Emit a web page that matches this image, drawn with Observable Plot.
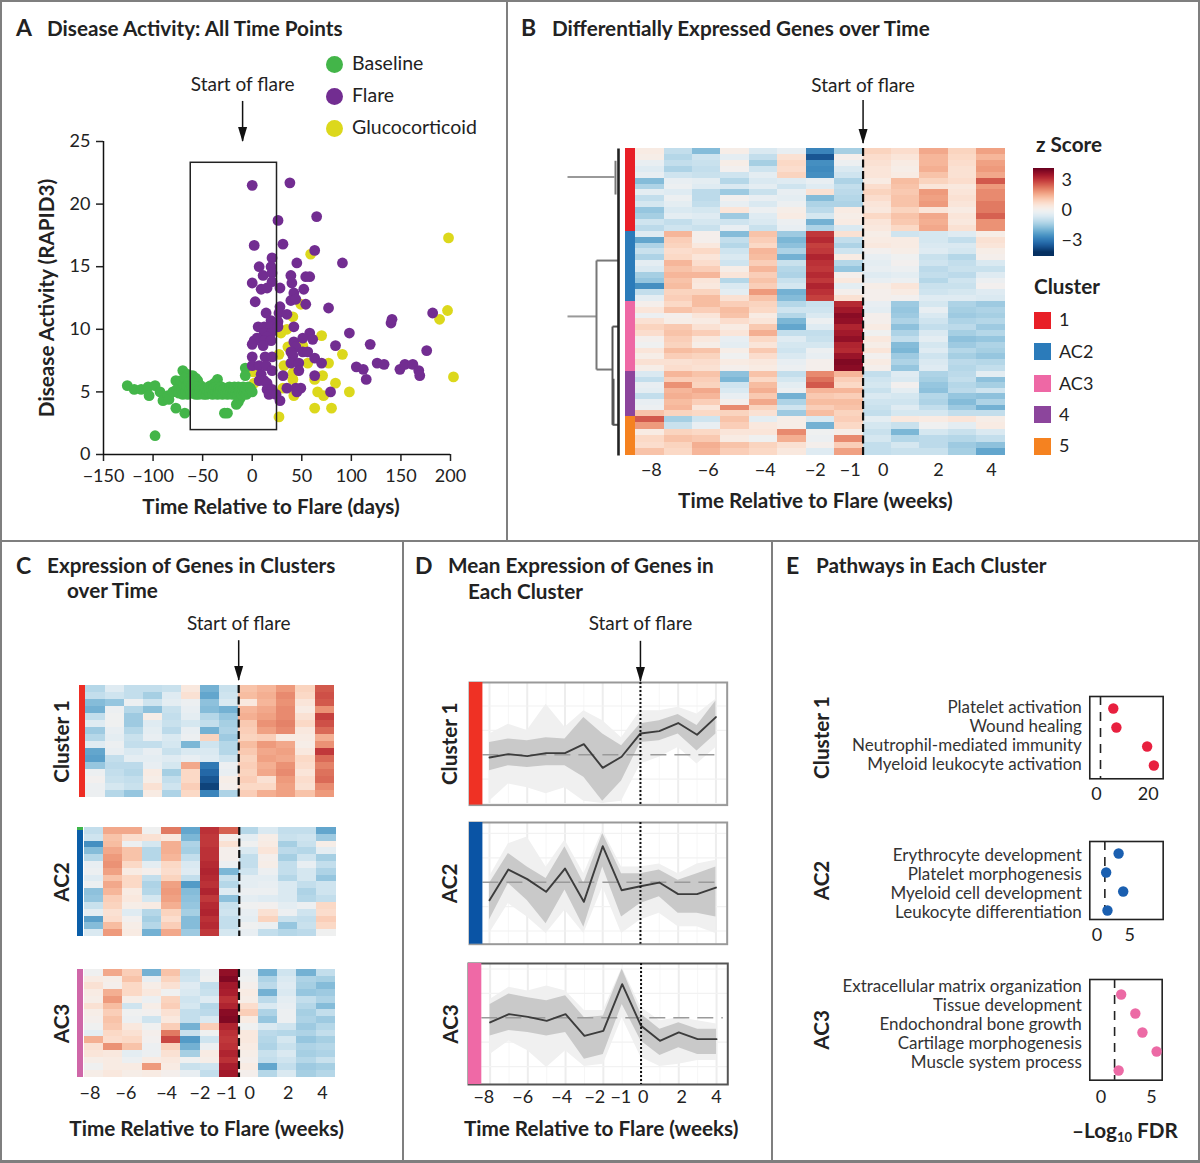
<!DOCTYPE html>
<html><head><meta charset="utf-8">
<script src="https://cdn.jsdelivr.net/npm/d3@7"></script>
<script src="https://cdn.jsdelivr.net/npm/@observablehq/plot@0.6"></script>
<style>
html,body{margin:0;padding:0;background:#fff}
#page{position:relative;width:1200px;height:1163px;overflow:hidden;font-family:Lato,"Open Sans",sans-serif;color:#222}
.abs{position:absolute}
.t{position:absolute;white-space:pre;transform:translateY(-50%);line-height:1}
</style></head><body><div id="page"></div>
<script>
// ---------- Panel A values: [days, RAPID3]
const baseline=[[-126,5.5],[-119,5.2],[-112,5.2],[-105,5.4],[-98,5.5],[-104,4.7],[-93,5],[-90,4.3],[-85,4.7],[-84,4.4],[-80,5],[-77,3.7],[-68,3.3],[-98,1.5],[-77,5.9],[-73,5.5],[-70,6.7],[-66,6.3],[-62,6],[-57,6.1],[-55,5.9],[-52,5.5],[-35,6],[-42,5.5],[-38,5.7],[-28,3.3],[-25,3.3],[-16,4],[-14,4.2],[-12,4.5],[-7,6.9],[-7,6.3],[-68,5.9],[-65,6.4],[-60,6.3],[-58,5.9],
[-76,5.2],[-74,4.9],[-72,5.9],[-71,5.2],[-70,4.8],[-69,5.6],[-68,6.1],[-67,5],[-66,5.5],[-65,4.8],[-64,5.8],[-63,5.2],[-62,4.9],[-61,5.5],[-60,5],[-59,5.7],[-58,5.2],[-57,4.8],[-56,5.4],[-55,5],[-54,4.8],[-53,5.2],[-51,4.9],[-50,5.2],[-49,4.8],[-48,5],[-47,5.3],[-46,4.8],[-45,5.1],[-44,5.4],[-43,4.9],[-41,5.2],[-40,4.8],[-39,5.3],[-37,5],[-36,5.4],[-35,4.8],[-34,5.2],[-33,4.9],[-32,5.1],[-31,5.4],[-30,4.8],[-29,5.2],[-27,4.9],[-26,5.3],[-25,4.8],[-24,5.1],[-23,5.4],[-22,4.9],[-21,5.3],[-20,4.8],[-19,5.1],[-18,5.4],[-17,4.9],[-16,5.2],[-15,4.7],[-14,5.4],[-13,5],[-12,5.3],[-11,4.8],[-10,5.2],[-9,5.4],[-8,4.9],[-7,5.2],[-6,4.8],[-5,5.1],[-4,5.4],[-3,5],[-2,5.3],[-1,5.1],[0,5]];
const flarePts=[[0,21.5],[38,21.7],[26,18.7],[65,19],[2,16.7],[31,16.8],[63,16.3],[20,15.7],[45,15.3],[91,15.3],[7,15],[19,15],[11,14.3],[20,14.5],[39,14.3],[54,14.2],[58,14.2],[0,13.7],[20,13.8],[40,13.7],[9,13.2],[15,13.3],[28,13.3],[52,13.2],[42,12.9],[3,12.2],[39,12.3],[44,12.4],[54,12],[28,11.8],[77,11.7],[14,11.3],[27,11.3],[35,11.2],[19,10.7],[26,10.6],[6,10.2],[12,10.2],[19,10.2],[26,10.2],[42,10.2],[12,9.7],[19,9.7],[15,9.4],[98,9.7],[58,9.7],[5,9.3],[2,9.1],[12,9.1],[19,9.1],[0,8.8],[11,8.7],[42,9],[51,9.3],[61,9.2],[84,8.7],[119,8.8],[176,8.3],[44,8.6],[39,8.2],[51,8.2],[56,8.2],[63,7.7],[0,7.8],[13,7.8],[20,7.8],[41,7.9],[39,7.3],[47,7.3],[70,7.3],[0,7.1],[7,7.1],[14,7.1],[105,7],[112,6.8],[115,6],[126,7.3],[133,7.2],[149,6.8],[154,7.2],[162,7.2],[168,6.7],[169,6.3],[63,6.3],[31,6.3],[47,6.7],[20,6.7],[9,6.4],[12,5.9],[7,5.9],[15,5.7],[15,5.2],[20,5.2],[17,4.8],[24,4.8],[35,5.3],[44,5.3],[49,5.3],[45,5],[79,5],[28,4.3],[140,10.5],[141,10.8],[182,11.3]];
const gluco=[[198,17.3],[197,11.5],[189,10.8],[203,6.2],[59,16],[49,12],[41,11],[35,10],[29,9.7],[70,9.5],[51,8.7],[36,8.6],[27,8],[91,8],[56,7.3],[77,7.3],[32,7.1],[41,6.5],[71,6.3],[63,6],[41,6],[84,5.7],[2,5.7],[31,5.3],[66,5],[98,5],[72,4.7],[42,4.7],[63,3.7],[80,3.7],[27,3],[1,6.6]];
const flareBox=[-62,25,1.95,23.3];
// ---------- Heatmap axes
const weeks=[-8,-7,-6,-5,-4,-3,-2,-1,0,1,2,3,4];
const weekLabels=["\u22128","\u22126","\u22124","\u22122","\u22121","0","2","4"];
// ---------- Panel B z scores, one inner list per week column, rows top to bottom
const heatB1=[[.3,.2,-.3,-.5,-.3,-1.8,-1.3,-.4,-1,-.7,-1.6,-1.4,-.8,-1.1],[-1,-1.2,-1,-1.3,-.8,-.3,-.2,-.5,-.2,-.4,-.6,-.4,-1,-.8],[-1.8,-.8,-.9,-1,-.9,-.4,-.5,-1.1,-1.1,-1,-.7,-.5,-.7,-.9],[.2,-.4,.2,0,-.8,-1.2,-.6,-1.5,0,-.3,.5,-1.5,-.8,-.3],[-.6,-1,-1.4,-.8,-.4,-.6,-.4,-.9,-.3,-.6,-.2,-.5,-.6,-.9],[-.3,.6,.8,.7,.9,-.5,-.8,-.3,-.4,-.2,.2,.3,-.2,-.3],[-2.8,-3.6,-2.6,-2.7,-2.6,-.3,-.5,.6,-1.8,-1.3,-1.1,-.7,-2,-1.3],[-1.4,.1,-.2,-.6,-.8,-1.3,-1,-1.1,-1.2,-1.3,.3,.2,.3,-.6],[.9,.7,.6,.5,.5,.3,.7,.9,.7,.5,.4,.8,.5,.4],[.7,.5,.3,.2,.3,1.3,1.2,1.1,1.2,1.2,.9,1.2,1.1,.8],[1.6,1.4,1.4,1.5,1.2,.9,.5,1.8,1.7,1.8,.5,1.6,1.5,1.6],[.9,.8,.7,.6,.6,.7,.4,.5,.6,.5,.3,.5,.4,.6],[1.7,1.4,1.7,1.8,1.6,2.6,1.8,2,2,2.2,2.2,2.5,1.9,1.9]];
const heatB2=[[-.5,-2.2,-1.3,-.9,-1.3,-.4,-.6,-1.4,-1.6,-2.6,-1,-.4],[1.4,1,.9,.7,.8,1.4,1.2,1.4,1.2,1.3,.9,1],[.1,.1,.4,.8,.5,.7,1,1.4,.5,.4,.9,1.3],[-1.8,-1,-1.2,-.8,-.6,-.8,.2,.5,-1.2,-.6,-.4,.6],[1.2,1,.8,1.4,1.3,1,1.4,1,1.2,1,1.8,1.2],[-1.5,-1.9,-1.7,-1.3,-2,-.9,-1.2,-1.3,-.9,-.7,-2,-1.8],[3,3.2,2.9,3,3.3,3.1,3,3.2,3,3.3,3.1,2.9],[.6,-1,-1.3,-.8,.3,-1.2,-1.6,.1,.4,-.4,.1,.6],[.2,.3,.4,0,-.3,-.4,-.3,-.5,-.3,.2,.1,.1],[-.8,.3,.3,.2,-.1,0,-.2,-.4,-.2,.5,.3,0],[-.7,-.7,-.6,-.5,-.9,-.8,-1.1,-1,-1.2,-.9,-.8,-.5],[-.5,-1,-.6,-.7,-1.2,-1,-.9,-1.1,-.8,-.9,-.7,-.5],[.2,.6,.5,.2,.1,-.6,-.9,-.5,-.2,0,-.5,-.6]];
const heatB3=[[.1,.5,-.2,.6,.9,.7,.1,-.1,.5,.2,.6,.2],[.8,1.2,.1,.2,1.1,1.2,1,.9,1.3,1,.6,.7],[1.3,1,.5,.3,.6,1,.4,.2,1.2,.9,.7,.6],[1,1.3,1.2,.7,.3,.5,-.3,-.4,.2,-.1,.3,.1],[.9,.8,.3,.5,1.1,1.5,.8,.5,1.1,.7,.4,.3],[-1.2,-.8,-1.2,-1.9,-2.2,-1,-.5,-.7,-.8,-.6,-.3,-.2],[-.9,-.8,-.6,-.2,-.5,-1,-.9,-.7,-.2,-.3,.1,.1],[3.2,3.5,3.8,3.7,3.3,3.5,3.7,3.3,3.2,3.6,3.9,3.8],[-.3,-.4,.1,.1,.3,-.1,.4,.2,.5,0,.3,.1],[-1.5,-1.6,-1.5,-1.3,-1.7,-1.3,-1,-1.8,-1.9,-1.5,-1.3,-1.6],[-.7,-.3,-.6,-.8,-1,-.6,-.4,-.7,-.5,-.8,-.6,-.5],[-1.3,-1.4,-1.5,-1.3,-1.1,-1.4,-1.7,-1.5,-1.2,-1.4,-1.1,-1.2],[-1.5,-1.3,-1.4,-1.2,-1.5,-1.2,-1.6,-1.3,-1.4,-1.6,-1.2,-1]];
const heatB4=[[-.6,-1,-.3,-.4,-1,-.3,-.2,1.2],[1.4,1,1.9,1.4,1.5,1.3,1.4,.9],[1.2,1,.9,1.6,1.4,1,.5,.8],[-1.7,-1.9,-.8,-.6,-.3,.1,2,.9],[1.2,.8,1.3,1.5,1.1,1.6,.9,.6],[-1,-.7,-.4,-.2,-2,-1.3,-.8,-1.5],[2,2.3,2.6,1.4,1.1,1.3,1,1.3],[1.4,1,.8,1.4,1,1.3,1.2,.9],[-1,-.8,-.7,-.9,-.6,-.8,-.9,-1],[-.5,-.6,0,-.4,-.7,-.8,-.5,-.7],[-1.3,-1.4,-1.6,-1.7,-1.2,-1.3,-1,-.7],[-1.1,-1,-1.2,-1.1,-1.6,-1.8,-1.5,-1],[-.4,-1.7,-1.4,-.8,-1.7,-1.3,-2,-1]];
const heatB5=[[2.6,1.8,.3,.8,.7,1.2],[-1.4,-.9,.9,1.2,.9,.8],[-.8,-.3,.8,1.1,1.5,1.4],[1.2,1,.5,.3,1.2,1],[-.4,.4,.5,-.1,.9,.8],[.2,.2,2,1.5,.6,.4],[-.6,-2,-.1,-.2,.1,-.5],[1,.8,.2,2,1,1.7],[-.4,-.7,-.9,-.7,-1,-1],[.4,-.9,-1.9,-1.2,-.7,-.9],[.3,-.1,-.7,-1.1,-1.1,-.9],[.5,-.4,-.9,-1.2,-1.5,-1.4],[.2,.3,-.6,-1,-1.7,-2.2]];
const clusterShare=[27,22.8,22.8,14.7,12.7];
const clusterNames=["1","AC2","AC3","4","5"];
const clusterColors=["#e81f27","#2b7bba","#ee68a5","#8c459c","#f58220"];
// ---------- Panel C z scores
const heatC1=[[-1.2,-1,-1.8,-2,-1,-.5,-1.5,-1.2,-.5,-2.2,-2.3,-1.6,-.2,0,-.2,-.2],[-.5,-.8,-1.6,-.2,-.1,-.1,-.3,-.4,-.2,-.3,-1,-1.1,-1,-.9,-.7,-1.2],[-1,-1,-.2,-1.2,-1.5,-1.5,-1.2,-.9,-1,-.6,-.4,-1.1,-1.2,-1,-.9,-1.6],[-1,-1.4,-.8,-1.7,.2,-.5,-.4,-.3,-1,-.3,-.4,-.3,.3,.2,.6,.3],[-.9,-.5,-.4,-.9,-1,-.9,-1.1,-.6,-.7,-.9,-.5,-.7,-1.4,-1,-.8,-1.3],[.4,.6,-.2,-.3,-.4,-.7,-.3,-.2,-1.9,-.6,-.3,1.6,.8,.8,1,.8],[-2,-2.2,-1.7,-1.8,-1.2,-1,-2,.9,-.8,-.6,-.5,-3,-3.3,-3.6,-3.9,-2.8],[-.9,-.8,-.6,-2,-1.6,-1.4,-1.3,-1.5,-1.2,-1.2,-.8,-.2,-.3,.2,.1,-1.3],[1.2,1.3,.4,1.4,1.5,1.1,1,.9,1.3,1.1,.9,1,.9,1,.8,1],[1.4,1.5,1.4,1.6,1.7,1.9,1.7,1,1.8,1.6,1.7,1.5,1.6,.6,.8,1.5],[1.8,2,1.9,2,2,2.1,2,.3,1.6,1.7,1.6,1.9,2,1.8,1.7,1.7],[.9,.8,.5,.3,.6,.8,.4,.3,.2,.4,.8,.7,.5,.7,.6,1.2],[2.6,2.7,2.6,1.9,2.9,2.7,2.4,1.5,1.9,3,2.4,2.1,2.3,2.4,2,1.8]];
const heatC2=[[-1,-.8,-2.6,-1.8,-1.2,-.3,-.2,-.5,-.2,-1.7,-1.6,-.9,-.4,-2.3,-1.8,-.6],[1.6,1.2,1.3,1.6,1.8,1.9,1.7,1.2,1.6,1.4,1,.9,.6,.7,1.3,1.8],[1.6,.7,-.2,1.2,1.2,.8,.3,.8,.8,.3,.4,.2,-.5,0,.2,.3],[-.1,.6,-.7,-1.2,-1.2,-.4,.1,-1,-1.3,-1.2,-.7,.3,-1.2,-1.4,-1.2,-2],[2.2,.4,1.5,1.5,1.4,.8,.7,.9,1.7,1.8,1.7,1.5,.9,.7,1,1.6],[-2.2,-1.9,-1.3,-1.4,-1,-.6,-.5,-1,-2.4,-1.8,-1.7,-1.6,-1.4,-1.8,-1.8,-1.5],[3.1,3,3,3.1,3.1,3.2,3.3,3.2,3.1,3.3,3,3.2,3.3,3.1,3.2,3],[2.5,.1,.6,.1,.1,-.2,-1.9,-.9,-1.2,-.5,-1.7,-.9,-.8,-1,-1,-.7],[-1.2,-.4,-.1,-.6,-1,-1,-.8,-.4,-.4,-.2,-.4,-.1,-.3,-.4,-.1,-.3],[-.6,.2,.3,.5,.1,.2,-.2,-.4,-.3,-.2,-.5,0,.6,.9,-.2,-1],[-1,-.9,-1.4,-1.1,-1.4,-1,-1,-1.2,-.6,-.6,-.6,-.4,-.2,-.9,-1.6,-1.2],[-1,-.8,-.9,-1.2,-.8,-.3,-.7,-.7,-1,-1.3,-1.2,-.2,-.8,-1,-.9,-1.1],[-2.2,-1.5,.2,-.4,-1.4,-1,-1.3,-1.6,-.8,-.8,-1,.8,.7,1,.8,-.1]];
const heatC3=[[-.1,.3,.6,.3,.2,.6,.2,.1,-.1,-.4,1.5,.6,.5,.2,-.1,.2],[1.6,.2,.1,1.5,1.8,1.3,1,1.2,1.1,.8,.7,1.9,.4,.3,.3,.4],[1,1.2,.8,.8,.2,-.8,-.1,-.2,.4,.6,.8,1.2,-.4,-.2,.3,.2],[-2,-.3,.2,.4,-.2,.2,0,-.8,-.1,.1,0,-.2,-.2,.3,1.8,.3],[1.2,.9,.6,-.1,.9,1,.6,.4,1,2.2,2.8,.9,.6,.4,.3,.1],[-.9,-.8,-.5,-.6,-.8,-.7,-1,-1,-2,-.9,-2.4,-2,-1.4,-.1,-.9,-.3],[-.2,-.1,-1,-.9,-.5,-1.2,-1.1,-.6,1,-.1,-.8,-.2,.3,.2,-.8,-1],[3.7,3.9,3.5,3.4,3.1,3.3,3.8,3.9,3.3,3.1,3,3.1,3.3,3.1,3.4,3.5],[-.2,-.1,.1,.3,.2,.7,1,.3,-.1,.4,.4,.3,.2,.1,.3,.1],[-2,-1.3,-1.1,-2,-1.1,-.6,-1.3,-1.6,-.6,-1.1,-1.2,-1.3,-.9,-1,-2.2,-1.2],[-.8,-.6,-.5,-.6,-.4,-.3,-.2,-.2,-.8,-1.2,-.7,-.9,-.6,-.8,-1,-.6],[-2,-1.3,-1.4,-1.6,-1,-1.2,-1.4,-1.3,-1.5,-1.3,-1.6,-1.3,-1.4,-1.2,-1.5,-1.4],[-1,-1.4,-1.8,-1.5,-1.3,-1.8,-1,-1.5,-1.2,-1,-1.4,-1.2,-1.3,-.9,-1.4,-1.2]];
// ---------- Panel D, per week: mean, dense band (low/high), faint band (low/high)
const meanD1=[-.22,.05,-.11,.14,.14,.87,-1.07,-.16,1.75,1.94,2.6,1.64,3.09];
const hiD1=[1,1.3,1.15,1.4,1.3,3.05,1.7,.75,2.55,2.8,3.3,2.4,4.4];
const loD1=[-1.3,-.9,-1.05,-.9,-.9,-1.85,-3.8,-2.15,1,1.15,1.7,.3,1.7];
const topD1=[1.7,2.5,2,4.15,2.25,3.6,2.8,1.4,3.6,3.6,3.9,3.35,4.55];
const botD1=[-3.8,-2.4,-2.7,-3.2,-2.7,-3.8,-4,-3.8,-.75,-.2,.6,-.75,.6];
const meanD2=[-1.48,1.04,.25,-.79,1.12,-1.61,2.95,-.66,-.33,-.03,-.98,-.98,-.44];
const hiD2=[-.1,2.35,1.25,.3,2.9,-.1,4,.7,.7,1,.15,.7,1.25];
const loD2=[-3.1,-.1,-1.5,-3.4,-.65,-3.7,1.25,-2.85,-1.75,-1.2,-2.55,-2.55,-2.85];
const topD2=[.45,3.15,3.7,1.25,3.45,.7,4.25,1.25,1.25,1.5,.7,1.5,1.8];
const botD2=[-4.2,-1.75,-2.85,-4.2,-2.3,-4.2,-.4,-4.2,-3.1,-2.55,-3.65,-3.65,-4.2];
const meanD3=[-.38,.3,.08,-.25,.3,-1.48,-1.07,2.76,-.66,-1.89,-1.2,-1.75,-1.75];
const hiD3=[1.1,1.95,1.65,1.4,1.8,0,.15,4,.3,-.93,-.4,-.93,-.93];
const loD3=[-1.5,-1.05,-1.2,-1.5,-1.2,-3.4,-3,1.1,-1.9,-3.1,-2.45,-3,-3];
const topD3=[1.5,2.5,2.2,2.6,2.2,.6,.6,4.1,.85,-.25,0,-.25,-.5];
const botD3=[-3,-1.9,-2.7,-4.07,-2.7,-4,-3.8,0,-3.25,-4,-3.8,-3.5,-3.5];
// ---------- Panel E
const pathways1=["Platelet activation","Wound healing","Neutrophil-mediated immunity","Myeloid leukocyte activation"];
const fdr1=[6.5,7.7,19.6,22.2];
const pathways2=["Erythrocyte development","Platelet morphogenesis","Myeloid cell development","Leukocyte differentiation"];
const fdr2=[3.3,1.4,4,1.6];
const pathways3=["Extracellular matrix organization","Tissue development","Endochondral bone growth","Cartilage morphogenesis","Muscle system process"];
const fdr3=[2,3.4,4.1,5.5,1.75];
// ---------- Dendrogram links: [height1, share1, height2, share2]
const dendroLight=[[51,9.3,4,9.3],[51,54.7,22,54.7]];
const dendroMid=[[22,36.5,22,72],[22,36.5,0,36.5],[22,72,6,72],[3,4,3,15]];
const dendroDark=[[6,58,6,90],[6,58,0,58],[6,90,0,90],[5,75,5,90]];
const dendroSpine=[[0,0,0,100]];

const FONT='Lato,"Open Sans",sans-serif', INK="#222";
const page=document.getElementById("page");
const minus=d=>String(d).replace("-","\u2212");
const baseStyle={fontFamily:FONT,background:"transparent",overflow:"visible",color:INK};
function place(el,left,top){el.style.position="absolute";el.style.left=left+"px";el.style.top=top+"px";el.style.maxWidth="none";page.appendChild(el);return el}
function txt(s,x,y,o={}){const d=document.createElement("div");d.className="t";d.innerHTML=s;d.style.left=x+"px";d.style.top=y+"px";d.style.fontSize=(o.size||18)+"px";d.style.fontWeight=o.weight||400;page.appendChild(d);return d}
function bar(x,y,w,h){const d=document.createElement("div");d.className="abs";Object.assign(d.style,{left:x+"px",top:y+"px",width:w+"px",height:h+"px",background:"#7f7f7f"});page.appendChild(d)}
const arrowHead={draw(c,s){const r=Math.sqrt(s/Math.PI);c.moveTo(-r*.6,-r);c.lineTo(r*.6,-r);c.lineTo(0,r);c.closePath()}};
const TICK=18, NOTE=19, TITLE=20.7, HEAD=20.7;
function flareMarks(x,yText,yTail,yTip){return [
 Plot.ruleX([x],{y1:yTail,y2:yTip,stroke:"#111",strokeWidth:1.5}),
 Plot.dot([x],{x:d=>d,y:()=>yTip,symbol:arrowHead,r:7.5,dy:-7,fill:"#111",stroke:"none"}),
 Plot.text(["Start of flare"],{x:()=>x,y:()=>yText,fontSize:NOTE,fill:INK})]}
function bottomLabel(s,dy,dx=0){return Plot.text([s],{frameAnchor:"bottom",lineAnchor:"middle",textAnchor:"middle",dy,dx,fontSize:HEAD,fontWeight:700,fill:INK})}
function sideLabel(s,dx,size=HEAD){return Plot.text([s],{frameAnchor:"left",rotate:-90,textAnchor:"middle",lineAnchor:"middle",dx,fontSize:size,fontWeight:700,fill:INK})}

// ---------- frames
bar(0,0,1200,2);bar(0,1160,1200,3);bar(0,0,2,1163);bar(1198,0,2,1163);bar(506,0,2,540);bar(0,540,1200,2);bar(402,540,2,622);bar(771,540,2,622);

// ---------- titles
[["A",16,27],["B",521,27],["C",16,565],["D",415,565],["E",786,565]].forEach(([s,x,y])=>txt(s,x,y,{size:23,weight:700}));
const tt=(s,x,y)=>txt(s,x,y,{size:TITLE,weight:700});
tt("Disease Activity: All Time Points",47,28);
tt("Differentially Expressed Genes over Time",552,28);
tt("Expression of Genes in Clusters",47,565);tt("over Time",67,590);
tt("Mean Expression of Genes in",448,565);tt("Each Cluster",468,591);
tt("Pathways in Each Cluster",816,565);

// ---------- Panel A
const dayTicks=[-150,-100,-50,0,50,100,150,200], rapidTicks=[0,5,10,15,20,25];
const pt=(data,fill)=>Plot.dot(data,{x:d=>d[0],y:d=>d[1],r:5.4,fill,stroke:"none"});
place(Plot.plot({width:420,height:463,marginLeft:60,marginRight:13,marginTop:80,marginBottom:70,style:baseStyle,
 x:{domain:[-150,200]},y:{domain:[0,25]},
 marks:[
  Plot.axisX({ticks:dayTicks,tickFormat:minus,tickSize:7,tickPadding:8,fontSize:TICK,label:null,strokeWidth:1.5}),
  Plot.axisY({ticks:rapidTicks,tickSize:7,tickPadding:6,fontSize:TICK,label:null,strokeWidth:1.5}),
  Plot.ruleX([-150],{stroke:"#111",strokeWidth:1.5}),Plot.ruleY([0],{x1:-150,x2:200,stroke:"#111",strokeWidth:1.5}),
  pt(gluco,"#dcd81c"),pt(baseline,"#43b549"),pt(flarePts,"#722d91"),
  Plot.rect([flareBox],{x1:d=>d[0],x2:d=>d[1],y1:d=>d[2],y2:d=>d[3],fill:"none",stroke:"#222",strokeWidth:1.5}),
  ...flareMarks(-9.7,29.5,28.2,25),
  bottomLabel("Time Relative to Flare (days)",53,-6),
  sideLabel("Disease Activity (RAPID3)",-56)
 ]}),43,61);
[["Baseline","#43b549",64],["Flare","#722d91",96],["Glucocorticoid","#dcd81c",128]].forEach(([s,c,y])=>{
 const d=document.createElement("div");d.className="abs";Object.assign(d.style,{left:"326px",top:(y-8.5)+"px",width:"17px",height:"17px",borderRadius:"50%",background:c});page.appendChild(d);
 txt(s,352,y-1,{size:19.5});
});

// ---------- Heat map builder
const heatColor={type:"linear",scheme:"RdBu",reverse:true,domain:[-4.2,4.2]};
function heatPanel(o){
 const [sl,sr]=o.strip,[hl,hr]=o.heat,[t,b]=o.y,pw=(hr-hl)/13;
 const xMin=-8.5-(hl-sl)/pw, stripEnd=-8.5-(hl-sr)/pw;
 const mt=o.mt||6, mb=o.mb||8, ml=o.ml||60, mr=6;
 const cells=[];let top=0;
 o.blocks.forEach(bk=>{const n=bk.cols[0].length;
  bk.cols.forEach((col,i)=>col.forEach((z,r)=>cells.push({w:weeks[i],y1:top+r/n*bk.share,y2:top+(r+1)/n*bk.share,z})));top+=bk.share});
 let st=0;const stripMarks=o.strips.map(s=>{const a=st,b2=st+s.share;st=b2;return Plot.rect([0],{x1:()=>xMin,x2:()=>stripEnd,y1:()=>a,y2:()=>b2,fill:s.color,shapeRendering:"crispEdges"})});
 const marks=[
  Plot.rect(cells,{x1:d=>d.w-.5,x2:d=>d.w+.5,y1:"y1",y2:"y2",fill:"z",shapeRendering:"crispEdges"}),
  ...stripMarks,
  Plot.ruleX([-.5],{y1:0,y2:100,stroke:"#111",strokeWidth:2.2,strokeDasharray:"8,3.5"}),
  ...(o.flare?flareMarks(-.5,...o.flare):[]),
  ...(o.side?[sideLabel(o.side,o.sideDx)]:[]),
  ...(o.tickAt?[Plot.axisX({ticks:o.tickAt,tickFormat:(d,i)=>weekLabels[i],tickSize:0,tickPadding:o.tickPad||6,fontSize:TICK,label:null})]:[]),
  ...(o.xlabel?[bottomLabel(o.xlabel,o.xlabelDy)]:[])
 ];
 place(Plot.plot({width:ml+(hr-sl)+mr,height:mt+(b-t)+mb,marginLeft:ml,marginRight:mr,marginTop:mt,marginBottom:mb,style:baseStyle,
  x:{domain:[xMin,4.5],axis:null},y:{domain:[0,100],reverse:true,axis:null},color:heatColor,marks}),sl-ml,t-mt);
}
// Panel B
heatPanel({strip:[625.3,635.5],heat:[635.5,1005],y:[148,455],mt:70,mb:60,ml:4,
 blocks:[heatB1,heatB2,heatB3,heatB4,heatB5].map((cols,i)=>({cols,share:clusterShare[i]})),
 strips:clusterShare.map((share,i)=>({share,color:clusterColors[i]})),
 flare:[-20.5,-15.6,-1.6],tickAt:[-7.95,-5.95,-3.94,-2.18,-.95,.21,2.15,4.02],tickPad:8,xlabel:"Time Relative to Flare (weeks)",xlabelDy:46});
// Dendrogram
const linkMark=(rows,stroke,strokeWidth)=>Plot.link(rows,{x1:d=>d[0],y1:d=>d[1],x2:d=>d[2],y2:d=>d[3],stroke,strokeWidth});
place(Plot.plot({width:51,height:307,margin:0,style:baseStyle,x:{domain:[51,0],axis:null},y:{domain:[0,100],reverse:true,axis:null},
 marks:[linkMark(dendroLight,"#999",2),linkMark(dendroMid,"#777",2),linkMark(dendroDark,"#555",2),linkMark(dendroSpine,"#222",2.6)]}),567,148);
// Panel B legend
txt("z Score",1036,143.5,{size:HEAD,weight:700});txt("Cluster",1034,285.5,{size:HEAD,weight:700});
const zRamp=d3.range(-4.6,4.2,.1);
const zTicks=[3,0,-3];
place(Plot.plot({width:60,height:100,marginTop:6,marginBottom:6,marginLeft:0,marginRight:39,style:baseStyle,
 x:{domain:[0,1],axis:null},y:{domain:[-4.6,4.2]},color:heatColor,
 marks:[Plot.rect(zRamp,{x1:()=>0,x2:()=>1,y1:d=>d,y2:d=>d+.1,fill:d=>d+.05,shapeRendering:"crispEdges"}),
  Plot.axisY({anchor:"right",ticks:zTicks,tickFormat:minus,tickSize:0,tickPadding:7,fontSize:TICK,label:null})]}),1033.3,161.7);
clusterNames.forEach((s,i)=>{const y=[320,351.5,383.5,414.5,446][i];
 const d=document.createElement("div");d.className="abs";Object.assign(d.style,{left:"1033.5px",top:(y-8.5)+"px",width:"17px",height:"17px",background:clusterColors[i]});page.appendChild(d);
 txt(s,1059,y-1,{size:TICK});});

// Panel C
const tickAtC=[-8.2,-6.34,-4.24,-2.52,-1.15,.05,2.04,3.82];
heatPanel({strip:[79.3,85.7],heat:[85.7,334],y:[685,797],mt:80,mb:6,ml:40,blocks:[{cols:heatC1,share:100}],strips:[{share:100,color:"#ee2d24"}],flare:[-55.4,-40,-4.5],side:"Cluster 1",sideDx:-17});
heatPanel({strip:[77.3,83.7],heat:[84,336],y:[827,936],mt:6,mb:6,ml:40,blocks:[{cols:heatC2,share:100}],strips:[{share:2.5,color:"#3cb54a"},{share:97.5,color:"#0a5ea8"}],side:"AC2",sideDx:-15});
heatPanel({strip:[77.3,83.7],heat:[84,335.5],y:[969,1077],mt:6,mb:70,ml:40,blocks:[{cols:heatC3,share:100}],strips:[{share:100,color:"#cf67a8"}],side:"AC3",sideDx:-15,tickAt:tickAtC,tickPad:9,xlabel:"Time Relative to Flare (weeks)",xlabelDy:52});

// ---------- Panel D builder
const gridZ=[-4,-2,2,4];
const tickAtD=[-8.33,-6.27,-4.2,-2.45,-1.07,.12,2.16,4];
function curvePanel(o){
 const rows=weeks.map((w,i)=>({w,m:o.mean[i],hi:o.hi[i],lo:o.lo[i],top:o.top[i],bot:o.bot[i]}));
 const pw=18.87,[sl,sr]=o.strip,right=727,t=o.y[0],b=o.y[1],z0=o.y[2],pz=12.2;
 const xMin=-8-(489.3-sl)/pw,stripEnd=-8-(489.3-sr)/pw,xMax=-8+(right-489.3)/pw;
 const yd=[-(b-z0)/pz,(z0-t)/pz];
 const mt=o.mt||6,mb=o.mb||6,ml=40;
 place(Plot.plot({width:ml+(right-sl)+6,height:mt+(b-t)+mb,marginTop:mt,marginBottom:mb,marginLeft:ml,marginRight:6,style:baseStyle,
  x:{domain:[xMin,xMax],axis:null},y:{domain:yd,axis:null},
  marks:[
   Plot.ruleX(weeks,{stroke:d=>d%2?"#f6f6f6":"#ededed",strokeWidth:d=>d%2?1:2}),
   Plot.ruleY(gridZ,{stroke:"#f2f2f2",strokeWidth:1.2}),
   Plot.areaY(rows,{x:"w",y1:"bot",y2:"top",fill:"#f0f0f0"}),
   Plot.areaY(rows,{x:"w",y1:"lo",y2:"hi",fill:"#c9c9c9"}),
   Plot.frame({stroke:o.frame||"#999",strokeWidth:2}),
   Plot.ruleY([0],{x1:stripEnd,x2:4.36,stroke:"#9a9a9a",strokeWidth:1.6,strokeDasharray:"16,8"}),
   Plot.line(rows,{x:"w",y:"m",stroke:"#3c3c3c",strokeWidth:1.9}),
   Plot.ruleX([0],{stroke:"#111",strokeWidth:2,strokeDasharray:"2,2"}),
   Plot.rect([0],{x1:()=>xMin,x2:()=>stripEnd,y1:()=>yd[0],y2:()=>yd[1],fill:o.color}),
   ...(o.flare?flareMarks(0,...o.flare):[]),
   sideLabel(o.side,o.sideDx),
   ...(o.ticks?[Plot.axisX({ticks:tickAtD,tickFormat:(d,i)=>weekLabels[i],tickSize:0,tickPadding:6,fontSize:TICK,label:null}),bottomLabel("Time Relative to Flare (weeks)",45,3)]:[])
  ]}),sl-ml,t-mt);
}
curvePanel({mean:meanD1,hi:hiD1,lo:loD1,top:topD1,bot:botD1,strip:[469.3,482.7],y:[681.7,804.3,754],color:"#ef3124",side:"Cluster 1",sideDx:-19,flare:[10.7,9.3,6],mt:70});
curvePanel({mean:meanD2,hi:hiD2,lo:loD2,top:topD2,bot:botD2,strip:[469.3,482.7],y:[822.3,944,882],color:"#0a54a5",side:"AC2",sideDx:-19});
curvePanel({mean:meanD3,hi:hiD3,lo:loD3,top:topD3,bot:botD3,strip:[467.7,481],y:[962.7,1083.7,1017],color:"#ef69a6",side:"AC3",sideDx:-17,ticks:true,mb:60,frame:"#555"});

// ---------- Panel E builder
function pathwayPanel(o){
 const [bl,br]=o.box,[t,b]=o.y,[dt,db]=o.dots,ml=bl-800,mt=8;
 const rows=o.names.map((n,i)=>({n,v:o.vals[i]}));
 place(Plot.plot({width:ml+(br-bl)+8,height:mt+(b-t)+34,marginLeft:ml,marginRight:8,marginTop:mt,marginBottom:34,style:baseStyle,
  x:{domain:o.domain},y:{type:"point",padding:0,domain:o.names,range:[dt-t+mt,db-t+mt]},
  marks:[
   Plot.axisX({ticks:o.ticks,tickSize:0,tickPadding:o.pad,fontSize:TICK,label:null}),
   Plot.axisY({tickSize:0,tickPadding:8,fontSize:17,dy:o.dy,label:null,fill:"#333"}),
   Plot.ruleX([o.cut],{stroke:"#222",strokeWidth:1.6,strokeDasharray:"9,7"}),
   Plot.frame({stroke:"#222",strokeWidth:1.6}),
   Plot.dot(rows,{x:"v",y:"n",r:5.2,fill:o.color,stroke:"none"}),
   sideLabel(o.side,822-bl)
  ]}),800,t-mt);
}
pathwayPanel({names:pathways1,vals:fdr1,box:[1089.3,1162.7],y:[696,778.3],dots:[707.3,765.7],domain:[-2.6,25.8],ticks:[0,20],cut:1.55,color:"#e8203f",side:"Cluster 1",dy:-1,pad:8});
pathwayPanel({names:pathways2,vals:fdr2,box:[1089.3,1162.7],y:[840.7,918.7],dots:[851.7,909.7],domain:[-1.1,10.1],ticks:[0,5],cut:1.2,color:"#1a5fb0",side:"AC2",dy:2,pad:9});
pathwayPanel({names:pathways3,vals:fdr3,box:[1089.3,1161.7],y:[979,1079.7],dots:[992.3,1071.3],domain:[-1.1,6.05],ticks:[0,5],cut:1.35,color:"#ec6aa5",side:"AC3",dy:-8,pad:10});
txt('\u2013Log<sub style="font-size:13px;vertical-align:-4px;line-height:0">10</sub> FDR',1072,1130,{size:HEAD,weight:700});
</script></body></html>
